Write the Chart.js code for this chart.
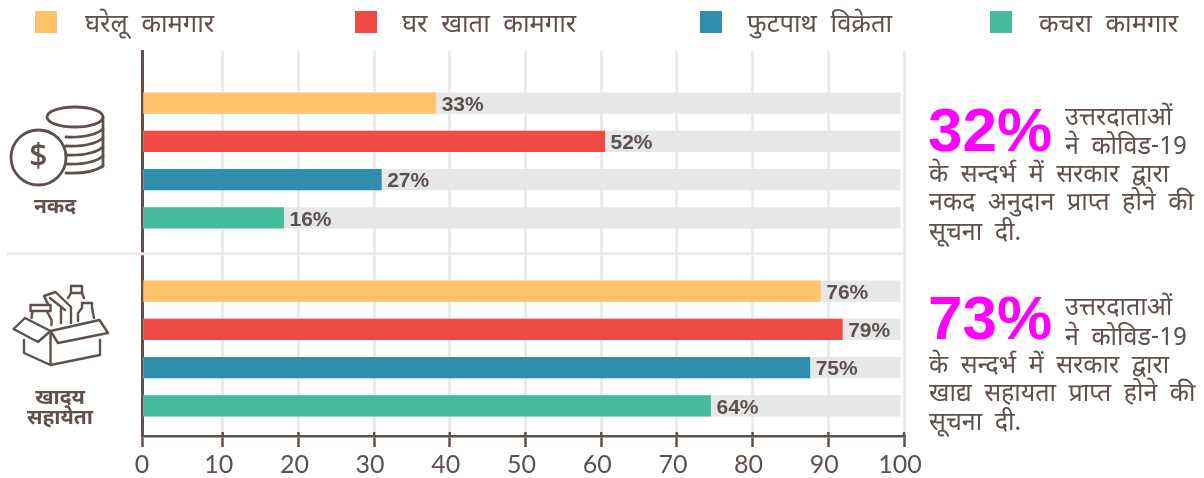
<!DOCTYPE html>
<html><head><meta charset="utf-8">
<style>html,body{margin:0;padding:0;background:#fff}canvas{display:block}</style>
<script src="https://cdn.jsdelivr.net/npm/chart.js@4"></script>
</head><body><canvas id="c" width="1204" height="478"></canvas>
<script>
const groupNames = [["नकद"], ["खादय", "सहायेता"]];
const workerNames = ["घरेलू कामगार", "घर खाता कामगार", "फुटपाथ विक्रेता", "कचरा कामगार"];
const workerColors = ["#fec36b", "#f04a45", "#2f8eab", "#45bc9c"];
const domesticBars = [38.2, 89.0];
const homeBars = [60.5, 91.9];
const vendorBars = [31.0, 87.6];
const wasteBars = [18.1, 74.5];
const domesticLabels = [33, 76];
const homeLabels = [52, 79];
const vendorLabels = [27, 75];
const wasteLabels = [16, 64];
const trackValue = 99.55;
const tickValues = [0, 10, 20, 30, 40, 50, 60, 70, 80, 90, 100];
const callouts = [
  { pct: "32%", lines: ["उत्तरदाताओं", "ने कोविड-19", "के सन्दर्भ में सरकार द्वारा", "नकद अनुदान प्राप्त होने की", "सूचना दी."] },
  { pct: "73%", lines: ["उत्तरदाताओं", "ने कोविड-19", "के सन्दर्भ में सरकार द्वारा", "खाद्य सहायता प्राप्त होने की", "सूचना दी."] }
];

const ink = "#5f504c", track = "#e6e7e9", grid = "#ebebeb";
const hindi = '"Noto Sans Devanagari","Noto Sans","Lohit Devanagari",sans-serif';
const barSeries = [domesticBars, homeBars, vendorBars, wasteBars];
const labelSeries = [domesticLabels, homeLabels, vendorLabels, wasteLabels];
const stacks = ["a", "b", "c", "d"];
const xStart = -0.66, barBase = -0.46;

const datasets = [];
workerNames.forEach((n, i) => datasets.push({
  label: n, stack: stacks[i], base: barBase, backgroundColor: workerColors[i],
  data: barSeries[i].map((v, g) => ({ x: v, y: g }))
}));
workerNames.forEach((n, i) => datasets.push({
  label: "", stack: stacks[i], base: barBase, backgroundColor: track,
  data: barSeries[i].map((v, g) => ({ x: trackValue, y: g }))
}));

function text(ctx, s, x, y, font, color, align, wordSpacing) {
  ctx.font = font; ctx.fillStyle = color; ctx.textAlign = align || "left"; ctx.textBaseline = "middle";
  ctx.wordSpacing = wordSpacing || "0px";
  ctx.fillText(s, x, y);
  ctx.wordSpacing = "0px";
}
function poly(ctx, pts, close) {
  ctx.beginPath();
  pts.forEach((p, i) => i ? ctx.lineTo(p[0], p[1]) : ctx.moveTo(p[0], p[1]));
  if (close) ctx.closePath();
  ctx.stroke();
}

const separator = {
  id: "separator",
  beforeDraw(chart) {
    // the "0" label sits on the axis line, unlike the others which sit left of their ticks
    const items = chart.scales.x.getLabelItems();
    if (items.length && !items[0].shifted) { items[0].options.translation[0] += 4; items[0].shifted = true; }
  },
  beforeDatasetsDraw(chart) {
    const ctx = chart.ctx, y = chart.scales.y.getPixelForValue(0.5) - 0.8;
    ctx.save(); ctx.strokeStyle = grid; ctx.lineWidth = 3;
    ctx.beginPath(); ctx.moveTo(7, y); ctx.lineTo(chart.chartArea.right, y); ctx.stroke();
    ctx.restore();
  }
};
const decorations = {
  id: "decorations",
  afterDraw(chart) {
    const ctx = chart.ctx, xs = chart.scales.x, bottom = chart.chartArea.bottom;
    ctx.save();
    // tick marks also poke slightly above the axis line
    ctx.strokeStyle = ink; ctx.lineWidth = 2.5;
    xs.ticks.forEach((t, i) => {
      if (!i) return;
      const px = xs.getPixelForTick(i);
      ctx.beginPath(); ctx.moveTo(px, bottom - 4); ctx.lineTo(px, bottom); ctx.stroke();
    });
    // bar value labels
    labelSeries.forEach((arr, i) => {
      chart.getDatasetMeta(i).data.forEach((bar, g) => {
        text(ctx, arr[g] + "%", bar.x + 5.5, bar.y + 2, 'bold 21px "Liberation Sans",Arial,sans-serif', ink);
      });
    });
    // legend
    const swatchX = [35, 355, 700, 990], labelX = [85, 402, 747, 1039];
    workerNames.forEach((n, i) => {
      ctx.fillStyle = workerColors[i]; ctx.fillRect(swatchX[i], 11, 22, 22);
      text(ctx, n, labelX[i], 27, "25.5px " + hindi, ink, "left", "7px");
    });
    // group names
    text(ctx, groupNames[0][0], 55, 209, "bold 21px " + hindi, ink, "center");
    text(ctx, groupNames[1][0], 60, 400, "bold 21px " + hindi, ink, "center");
    text(ctx, groupNames[1][1], 60, 420, "bold 21px " + hindi, ink, "center");
    // callouts
    const tops = [[120, 149, 177, 205, 235], [310, 340, 368, 396, 425]];
    callouts.forEach((c, k) => {
      text(ctx, c.pct, 928, k ? 322 : 134, 'bold 62px "Liberation Sans",Arial,sans-serif', "#ff00ff");
      c.lines.forEach((l, j) => text(ctx, l, j < 2 ? 1065 : 929, tops[k][j], "25px " + hindi, ink, "left", "6px"));
    });
    // coins icon
    ctx.strokeStyle = ink; ctx.lineWidth = 2.8; ctx.lineCap = "round"; ctx.lineJoin = "round";
    ctx.beginPath(); ctx.arc(38.5, 157.5, 27.5, 0, Math.PI * 2); ctx.stroke();
    text(ctx, "$", 38.5, 158, "600 32px 'Open Sans',sans-serif", ink, "center");
    ctx.beginPath(); ctx.ellipse(75, 117, 28, 10, 0, 0, Math.PI * 2); ctx.stroke();
    ctx.beginPath(); ctx.moveTo(103, 117); ctx.lineTo(103, 166); ctx.stroke();
    [128, 137, 146, 155, 164].forEach((y, i) => {
      ctx.beginPath(); ctx.moveTo(66, y + 9); ctx.quadraticCurveTo(92, y + 10, 103, y + (i === 4 ? 2 : 1)); ctx.stroke();
    });
    // box icon
    ctx.lineWidth = 2.4;
    poly(ctx, [[24, 340], [24, 353], [50.5, 365], [100, 355], [100, 340]]);
    poly(ctx, [[50.5, 334], [50.5, 365]]);
    poly(ctx, [[25, 318], [13.5, 329], [38, 342], [50.5, 331]], true);
    poly(ctx, [[50.5, 331], [99.5, 320], [108, 333], [58, 343]], true);
    poly(ctx, [[30.5, 311], [30.5, 305], [50.5, 305], [50.5, 311], [30.5, 311]]);
    poly(ctx, [[32.5, 311], [31.5, 318]]);
    poly(ctx, [[46.7, 311], [51.5, 320], [51.5, 325]]);
    poly(ctx, [[48, 304], [44, 296], [55.5, 292], [71, 307], [71, 323]]);
    poly(ctx, [[61, 308], [61, 323]]);
    poly(ctx, [[50, 298], [65, 310]]);
    poly(ctx, [[71, 293], [71, 286], [82, 286], [82, 293], [71, 293]]);
    poly(ctx, [[71, 293], [68, 298]]); poly(ctx, [[82, 293], [84, 298]]);
    poly(ctx, [[78, 321], [78, 313], [82, 308], [82, 303], [92, 303], [92, 308], [94, 318]]);
    ctx.restore();
  }
};

new Chart(document.getElementById("c"), {
  type: "bar",
  data: { datasets },
  plugins: [separator, decorations],
  options: {
    indexAxis: "y", responsive: false, animation: false,
    categoryPercentage: 0.8138, barPercentage: 0.55,
    layout: { padding: { left: 142, right: 300, top: 51, bottom: 0 } },
    plugins: { legend: { display: false }, tooltip: { enabled: false } },
    scales: {
      y: {
        type: "linear", reverse: true, offset: false, min: -0.5824, max: 1.4654,
        afterBuildTicks: s => { s.ticks = [{ value: 0 }, { value: 1 }]; },
        afterFit: s => { s.width = 0; },
        ticks: { display: false },
        grid: { display: false, offset: false },
        border: { display: true, color: ink, width: 3 }
      },
      x: {
        type: "linear", stacked: false, min: xStart, max: 100,
        afterBuildTicks: s => { s.ticks = tickValues.map((v, i) => ({ value: i ? v : s.min })); },
        afterFit: s => { s.height = 42; },
        ticks: {
          autoSkip: false, maxRotation: 0, color: ink, padding: 3, labelOffset: -4,
          font: { family: "Lato,sans-serif", size: 25 },
          callback: (v, i) => String(tickValues[i])
        },
        grid: { color: grid, lineWidth: 3, tickColor: ink, tickLength: 11, tickWidth: 2.5 },
        border: { display: true, color: ink, width: 2.5 }
      }
    }
  }
});
</script></body></html>
